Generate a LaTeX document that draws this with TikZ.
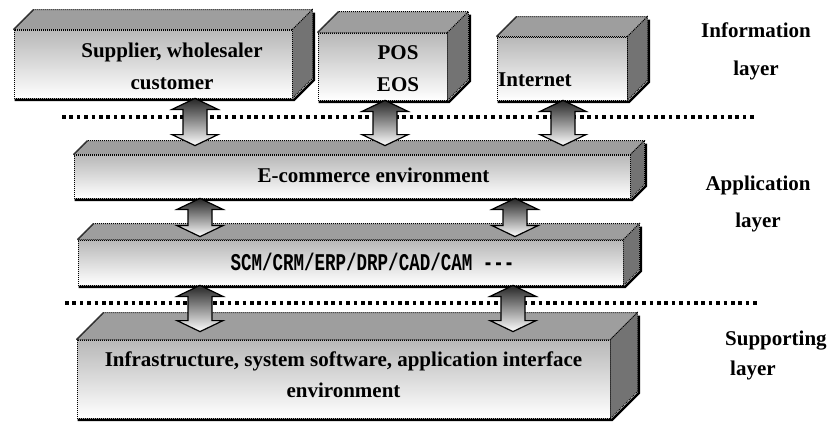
\documentclass[tikz,border=0pt]{standalone}
\usepackage{fontspec}
\setmainfont{Liberation Serif}
\newfontfamily\scmfont[FakeStretch=0.73]{Liberation Mono}
\usetikzlibrary{calc}

\begin{document}
\begin{tikzpicture}[x=1pt,y=-1pt,font=\fontsize{21}{32}\selectfont\bfseries]
		\def\fs#1{\fontsize{21}{#1}\selectfont\bfseries}
		
		\tikzstyle{face}=[draw,dash pattern=on 1pt off 1pt,line width=0.8pt]
		\tikzstyle{front face}=[face,rectangle,inner sep=0pt,top color=black!28,bottom color=white]
		\tikzstyle{top face}=[face,fill=black!38]
		\tikzstyle{side face}=[face,fill=black!55]
		\tikzstyle{shadow}=[line width=2.4pt]
		\tikzstyle{annot}=[inner sep=0pt,align=center]
		\tikzstyle{layer line}=[line width=3.6pt,dash pattern=on 3.6pt off 3.8pt]
		\tikzstyle{dblarrow}=[draw,line width=1.2pt,top color=black!85,bottom color=white,
		to path={let \p1=(\tikztostart), \p2=(\tikztotarget) in
			(\x1,\y1) -- (\x1+23pt,\y1-11pt) -- (\x1+12pt,\y1-11pt) -- (\x1+12pt,\y2+11pt)
			-- (\x1+23pt,\y2+11pt) -- (\x1,\y2) -- (\x1-23pt,\y2+11pt) -- (\x1-12pt,\y2+11pt)
			-- (\x1-12pt,\y1-11pt) -- (\x1-23pt,\y1-11pt) -- cycle}]
		
		\useasboundingbox (0,0) rectangle (829,421);
		
		% Draw the front faces of the boxes
		\node[front face,minimum width=278pt,minimum height=68pt] (sup) at (153,64) {};
		\node[front face,minimum width=129pt,minimum height=67pt] (pos) at (382.5,66.5) {};
		\node[front face,minimum width=130pt,minimum height=63pt] (net) at (562,68.5) {};
		\node[front face,minimum width=556pt,minimum height=43pt] (ecom) at (352,176.5) {};
		\node[front face,minimum width=545pt,minimum height=45pt] (scm) at (350.5,262.5) {};
		\node[front face,minimum width=533pt,minimum height=78pt] (base) at (343.5,379) {};
		
		% Add the top and side faces and the shadow
		\foreach \name/\d in {sup/20,pos/21,net/20,ecom/14,scm/16,base/27} {
			\draw[top face] (\name.north west) -- ++(\d,-\d) -- ($(\name.north east)+(\d,-\d)$) -- (\name.north east) -- cycle;
			\draw[gray!40!black,line width=1.4pt] (\name.north west) -- ++(\d,-\d);
			\draw[side face] (\name.north east) -- ++(\d,-\d) -- ($(\name.south east)+(\d,-\d)$) -- (\name.south east) -- cycle;
			\draw[shadow] ($(\name.south west)+(1,1.5)$) -- ($(\name.south east)+(1.5,1.5)$)
				-- ($(\name.south east)+(\d+1.5,-\d+1.5)$) -- ($(\name.north east)+(\d+1.5,-\d+3)$);
		}
		
		% Texts of the boxes
		\node[annot] (sup-t) at (172,66) {Supplier, wholesaler\\customer};
		\node[annot] (pos-t) at (398,69) {POS\\EOS};
		\node[annot,anchor=west] (net-t) at (498,80) {Internet};
		\node[annot] (ecom-t) at (373.5,175) {E-commerce environment};
		\node[annot,font=\fontsize{24}{32}\selectfont\scmfont\bfseries] (scm-t) at (372.5,262) {SCM/CRM/ERP/DRP/CAD/CAM ---};
		\node[annot,font=\fs{31}] (base-t) at (343.5,375) {Infrastructure, system software, application interface\\environment};
		
		% Annotate the layers
		\node[annot,font=\fs{38}] (info) at (756,51) {Information\\layer};
		\node[annot,font=\fs{37}] (app) at (758,203.5) {Application\\layer};
		\node[annot,align=left,anchor=west,font=\fs{30}] (supp) at (725,355) {Supporting\\\hspace*{5pt}layer};
		
		% Layer borders
		\draw[layer line] (62,117) -- (757,117);
		\draw[layer line] (65,303) -- (758,303);
		
		% Connect the layers
		\foreach \up/\lo/\x/\gap in {sup/ecom/195/9,pos/ecom/385/9,net/ecom/563/9,ecom/scm/200/3,ecom/scm/515/3,scm/base/200/8,scm/base/513/8}
		\draw[dblarrow] (\x,0 |- \up.south) to ([yshift=\gap pt]\x,0 |- \lo.north);
	\end{tikzpicture}
\end{document}
